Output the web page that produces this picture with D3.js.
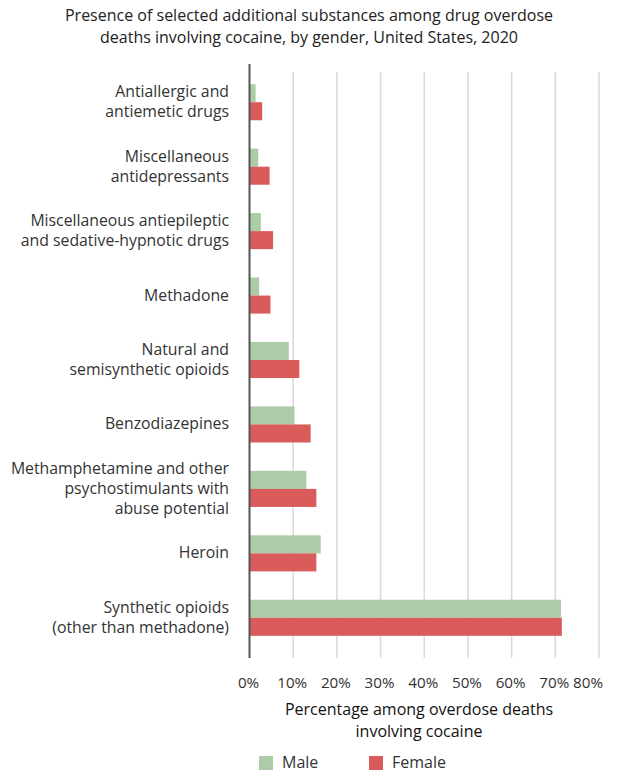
<!DOCTYPE html>
<html>
<head>
<meta charset="utf-8">
<script src="https://cdn.jsdelivr.net/npm/d3@7"></script>
<style>
  body { margin: 0; background: #fff; }
  svg { display: block; font-family: "Open Sans", "Noto Sans", sans-serif; }
</style>
</head>
<body>
<svg id="chart" width="619" height="776"></svg>
<script>
const categories = [
  ["Antiallergic and", "antiemetic drugs"],
  ["Miscellaneous", "antidepressants"],
  ["Miscellaneous antiepileptic", "and sedative-hypnotic drugs"],
  ["Methadone"],
  ["Natural and", "semisynthetic opioids"],
  ["Benzodiazepines"],
  ["Methamphetamine and other", "psychostimulants with", "abuse potential"],
  ["Heroin"],
  ["Synthetic opioids", "(other than methadone)"]
];
const maleValues = [1.4, 2.0, 2.6, 2.2, 9.0, 10.3, 13.0, 16.3, 71.3];
const femaleValues = [2.9, 4.6, 5.4, 4.8, 11.4, 14.0, 15.3, 15.3, 71.5];
const seriesNames = ["Male", "Female"];
const seriesColors = ["#abcca6", "#d95b5a"];
const xTicks = [0, 10, 20, 30, 40, 50, 60, 70, 80];
const titleLines = ["Presence of selected additional substances among drug overdose",
                    "deaths involving cocaine, by gender, United States, 2020"];
const xTitleLines = ["Percentage among overdose deaths", "involving cocaine"];

const svg = d3.select("#chart");
const keys = categories.map((c, i) => "c" + i);

const x = d3.scaleLinear().domain([0, 80]).range([249.5, 599]);
const y = d3.scaleBand().domain(keys).range([70, 650]).paddingInner(0.44).paddingOuter(0.22);
const ySub = d3.scaleBand().domain(seriesNames).range([0, y.bandwidth()]);

// Title
svg.append("g").selectAll("text").data(titleLines).join("text")
  .attr("x", 309).attr("y", (d, i) => 21 + i * 22)
  .attr("text-anchor", "middle").attr("font-size", 16).attr("fill", "#222")
  .text(d => d);

// Gridlines
svg.append("g").selectAll("line").data(xTicks.slice(1)).join("line")
  .attr("x1", d => x(d)).attr("x2", d => x(d))
  .attr("y1", 72).attr("y2", 658)
  .attr("stroke", "#d9d9d9").attr("stroke-width", 1.5);

// Bars
const data = keys.map((k, i) => ({ key: k, values: [maleValues[i], femaleValues[i]] }));
const groups = svg.append("g").selectAll("g").data(data).join("g")
  .attr("transform", d => `translate(0,${y(d.key)})`);
groups.selectAll("rect").data(d => d.values.map((v, j) => ({ v, s: seriesNames[j], c: seriesColors[j] })))
  .join("rect")
  .attr("x", x(0)).attr("y", d => ySub(d.s))
  .attr("width", d => x(d.v) - x(0)).attr("height", ySub.bandwidth())
  .attr("fill", d => d.c);

// Y axis line
svg.append("line").attr("x1", x(0)).attr("x2", x(0)).attr("y1", 64).attr("y2", 658)
  .attr("stroke", "#555").attr("stroke-width", 2);

// Y labels
const lab = svg.append("g").selectAll("text").data(data).join("text")
  .attr("text-anchor", "end").attr("font-size", 15.8).attr("fill", "#333");
lab.each(function(d, i) {
  const lines = categories[i];
  const cy = y(d.key) + y.bandwidth() / 2;
  const t = d3.select(this);
  lines.forEach((ln, j) => {
    t.append("tspan").attr("x", 229)
      .attr("y", cy + (j - (lines.length - 1) / 2) * 20 + 5)
      .text(ln);
  });
});

// X tick labels
svg.append("g").selectAll("text").data(xTicks).join("text")
  .attr("x", d => d === 80 ? x(d) + 4 : x(d) - 1)
  .attr("y", 688)
  .attr("text-anchor", d => d === 80 ? "end" : "middle")
  .attr("font-size", 15.2).attr("fill", "#333")
  .text(d => d + "%");

// X title
svg.append("g").selectAll("text").data(xTitleLines).join("text")
  .attr("x", 419).attr("y", (d, i) => 715 + i * 22)
  .attr("text-anchor", "middle").attr("font-size", 16).attr("fill", "#111")
  .text(d => d);

// Legend
const lg = svg.append("g").selectAll("g").data(seriesNames).join("g")
  .attr("transform", (d, i) => `translate(${259 + i * 110},756)`);
lg.append("rect").attr("width", 14).attr("height", 14).attr("fill", (d, i) => seriesColors[i]);
lg.append("text").attr("x", 23).attr("y", 12).attr("font-size", 16).attr("fill", "#333").text(d => d);
</script>
</body>
</html>
